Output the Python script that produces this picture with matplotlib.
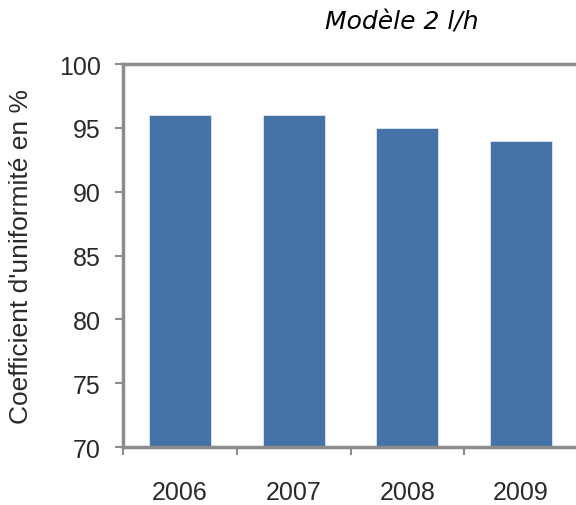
import matplotlib.pyplot as plt
import numpy as np

annees = ['2006', '2007', '2008', '2009']
coefficients = [96, 96, 95, 94]

fig = plt.figure(figsize=(5.76, 5.06), dpi=100)
# l'axe déborde un peu à droite comme sur l'original
ax = fig.add_axes([123 / 576, 1 - 448 / 506, 455 / 576, 383 / 506])

x = np.arange(len(annees))
ax.bar(x, coefficients, width=0.545, color='#4572a7', edgecolor='#dce6f2', linewidth=0.6, zorder=2)

ax.set_xlim(-0.5, len(annees) - 0.5)
ax.set_ylim(70, 100)
ax.set_yticks(range(70, 101, 5))
ax.set_xticks(x)
ax.set_xticklabels(annees)
ax.set_xticks(np.arange(-0.5, len(annees), 1), minor=True)

for s in ['left', 'bottom', 'top']:
    ax.spines[s].set_color('#8c8c8c')
    ax.spines[s].set_linewidth(2.5)
ax.spines['right'].set_visible(False)

ax.tick_params(axis='y', direction='out', length=6, width=1.5, color='#8c8c8c',
               labelsize=18, labelcolor='#2a2a2a', pad=10)
ax.tick_params(axis='x', which='major', length=0, labelsize=18, labelcolor='#2a2a2a', pad=24)
ax.tick_params(axis='x', which='minor', direction='out', length=6, width=1.5, color='#8c8c8c')
for lab in ax.get_xticklabels() + ax.get_yticklabels():
    lab.set_family('Liberation Sans')

ax.set_ylabel("Coefficient d'uniformité en %", fontsize=19, family='Liberation Sans',
              color='#2a2a2a', va='center')
ax.yaxis.set_label_coords(-102 / 455, 0.5)

fig.text(402 / 576, 1 - 22 / 506, 'Modèle 2 l/h', fontsize=18, style='italic',
         ha='center', va='center', family='DejaVu Sans')

fig.savefig('out.png', dpi=100)
